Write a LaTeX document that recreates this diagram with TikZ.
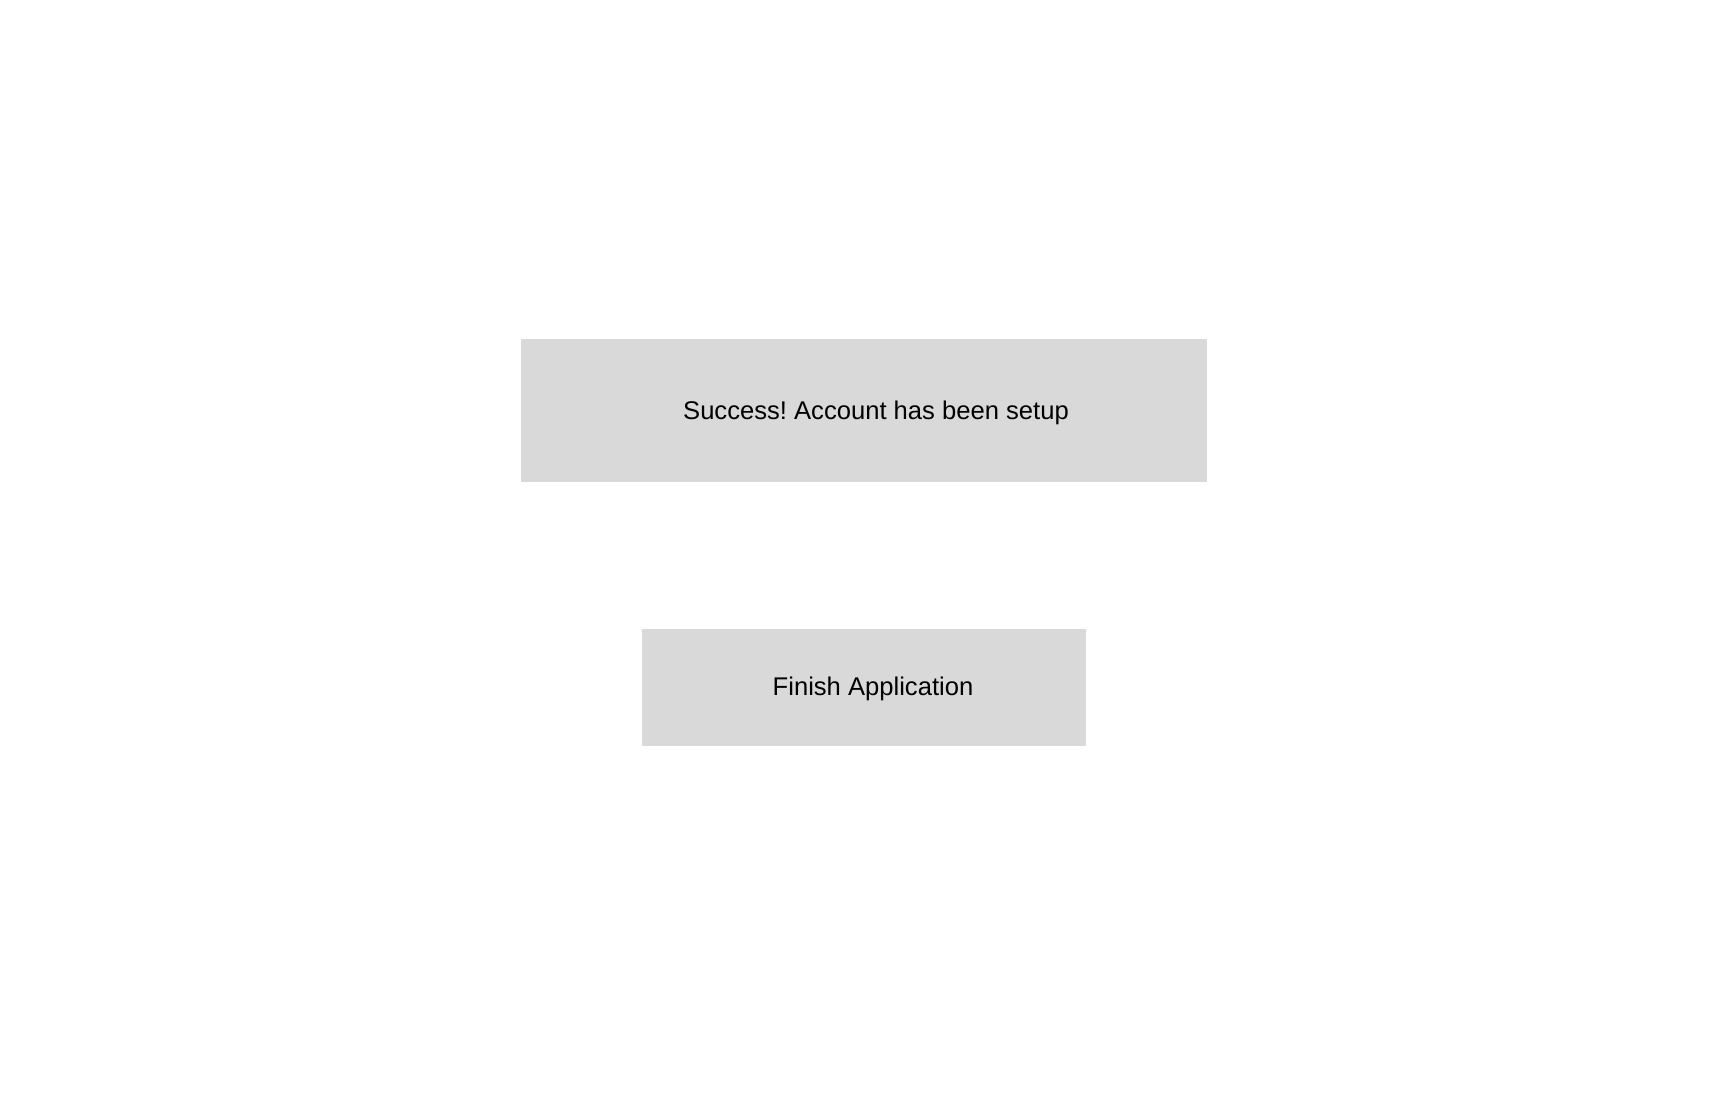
\documentclass[tikz,border=0pt]{standalone}
\usepackage{fontspec}
\setmainfont{Liberation Sans}
\frenchspacing
\definecolor{boxgray}{HTML}{D9D9D9}
\begin{document}
\begin{tikzpicture}[x=1pt,y=-1pt,
  graybox/.style={fill=boxgray,draw=none,rectangle,inner sep=0pt,anchor=center},
  boxtext/.style={inner sep=0pt,anchor=base,font=\fontsize{25.6}{30}\selectfont,text=black}]
\useasboundingbox[fill=white] (0,0) rectangle (1728,1117);
\node[graybox,minimum width=686pt,minimum height=143pt] (success) at (864,410.5) {};
\node[graybox,minimum width=444pt,minimum height=117pt] (finish) at (864,687.5) {};
\node[boxtext] (successtext) at (876,419.5) {Success! Account has been setup};
\node[boxtext] (finishtext) at (873,695.5) {Finish Application};
\end{tikzpicture}
\end{document}
